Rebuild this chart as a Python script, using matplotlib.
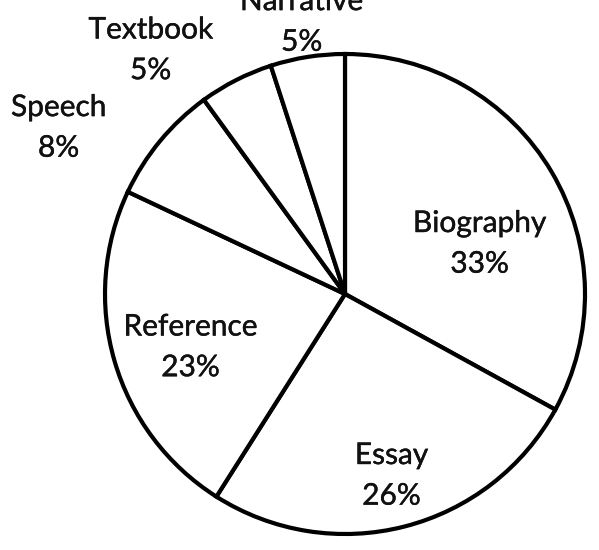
import matplotlib
matplotlib.use("Agg")
import matplotlib.pyplot as plt
import matplotlib.patheffects as pe
import numpy as np

categories = ["Biography", "Essay", "Reference", "Speech", "Textbook", "Narrative"]
shares = [33, 26, 23, 8, 5, 5]
pct_labels = ["33%", "26%", "23%", "8%", "5%", "5%"]

# label placement (style): radial distance as fraction of radius, clockwise angular shift (deg)
label_dist = [0.60, 0.78, 0.68, 1.38, 1.30, 1.15]
label_shift = [10, 0, -2.7, -9.4, -11.5, 0]

fig = plt.figure(figsize=(5.99, 5.50), dpi=100)
ax = fig.add_axes([0, 0, 1, 1])
cx, cy, R = 345, 256, 240
wedges, _ = ax.pie(shares, startangle=90, counterclock=False, center=(cx, cy), radius=R,
                   colors=["white"] * len(shares),
                   wedgeprops=dict(edgecolor="black", linewidth=3))
ax.set_xlim(0, 599)
ax.set_ylim(0, 550)
ax.set_aspect("equal")
ax.axis("off")

for w, cat, pct, d, s in zip(wedges, categories, pct_labels, label_dist, label_shift):
    th = np.deg2rad((w.theta1 + w.theta2) / 2 - s)
    x = cx + d * R * np.cos(th)
    y = cy + d * R * np.sin(th)
    ax.text(x, y, f"{cat}\n{pct}", ha="center", va="center", fontsize=21.5,
            family="Lato", linespacing=1.55, color="#111111",
            path_effects=[pe.withStroke(linewidth=0.3, foreground="#111111")])

fig.savefig("out.png", dpi=100, facecolor="white")
